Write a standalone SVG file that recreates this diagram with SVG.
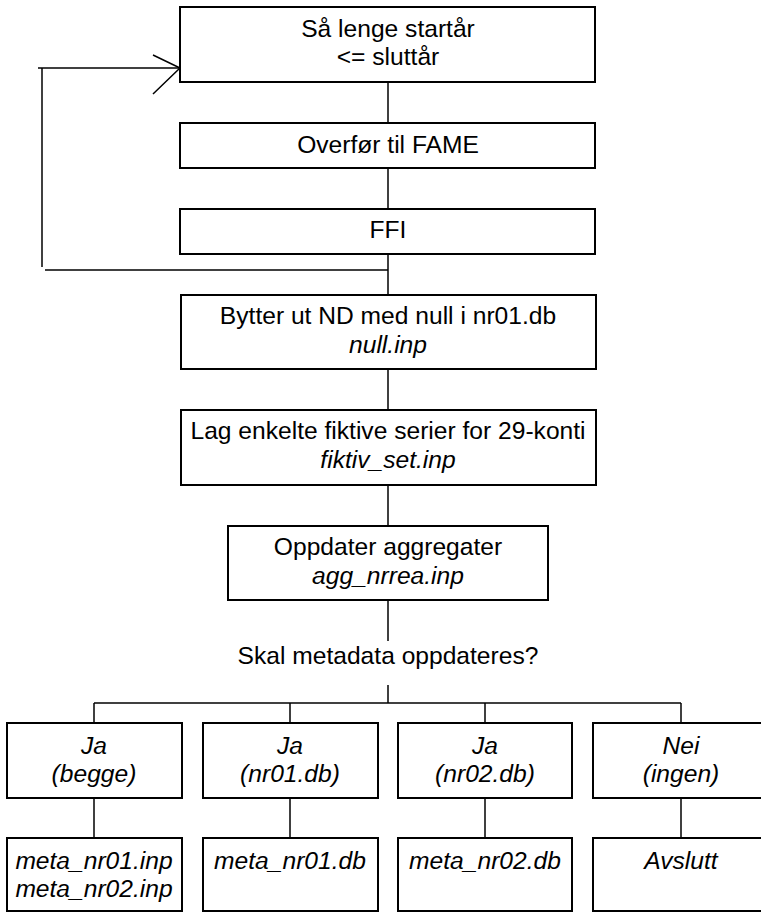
<svg xmlns="http://www.w3.org/2000/svg" width="761" height="913" viewBox="0 0 761 913">
  <style>
    .box { fill: #ffffff; stroke: #000000; stroke-width: 2; }
    .line { fill: none; stroke: #000000; stroke-width: 1.5; }
    text { font-family: "Liberation Sans", Arial, sans-serif; font-size: 24.6px; fill: #000000; text-anchor: middle; }
    .it { font-style: italic; }
  </style>
  <rect width="761" height="913" fill="#ffffff"/>

  <g id="connectors">
    <!-- main column -->
    <line class="line" x1="388" y1="82" x2="388" y2="123"/>
    <line class="line" x1="388" y1="168" x2="388" y2="209"/>
    <line class="line" x1="388" y1="254" x2="388" y2="295"/>
    <line class="line" x1="388" y1="369" x2="388" y2="410"/>
    <line class="line" x1="388" y1="485" x2="388" y2="526"/>
    <line class="line" x1="388" y1="600" x2="388" y2="641"/>
    <line class="line" x1="388" y1="685" x2="388" y2="703"/>
    <!-- loop back to the start -->
    <line class="line" x1="45" y1="270" x2="388" y2="270"/>
    <line class="line" x1="42" y1="267" x2="42" y2="68"/>
    <line class="line" x1="38" y1="68" x2="180" y2="68"/>
    <polyline class="line" points="153,55 180,68 153,94"/>
    <!-- branch bar -->
    <line class="line" x1="94" y1="703" x2="681" y2="703"/>
    <line class="line" x1="94" y1="703" x2="94" y2="723"/>
    <line class="line" x1="290" y1="703" x2="290" y2="723"/>
    <line class="line" x1="485" y1="703" x2="485" y2="723"/>
    <line class="line" x1="681" y1="703" x2="681" y2="723"/>
    <line class="line" x1="94" y1="798" x2="94" y2="838"/>
    <line class="line" x1="290" y1="798" x2="290" y2="838"/>
    <line class="line" x1="485" y1="798" x2="485" y2="838"/>
    <line class="line" x1="681" y1="798" x2="681" y2="838"/>
  </g>

  <g id="loop">
    <rect class="box" x="180" y="7" width="415" height="75"/>
    <text x="388" y="37">Så lenge startår</text>
    <text x="388" y="65">&lt;= sluttår</text>
  </g>
  <g id="overfor">
    <rect class="box" x="180" y="123" width="415" height="45"/>
    <text x="388" y="153">Overfør til FAME</text>
  </g>
  <g id="ffi">
    <rect class="box" x="180" y="209" width="415" height="45"/>
    <text x="388" y="238">FFI</text>
  </g>
  <g id="null">
    <rect class="box" x="181" y="295" width="415" height="74"/>
    <text x="388" y="324">Bytter ut ND med null i nr01.db</text>
    <text class="it" x="388" y="353">null.inp</text>
  </g>
  <g id="fiktiv">
    <rect class="box" x="181" y="410" width="415" height="75"/>
    <text x="388" y="439">Lag enkelte fiktive serier for 29-konti</text>
    <text class="it" x="388" y="468">fiktiv_set.inp</text>
  </g>
  <g id="aggregat">
    <rect class="box" x="228" y="526" width="320" height="74"/>
    <text x="388" y="555">Oppdater aggregater</text>
    <text class="it" x="388" y="584">agg_nrrea.inp</text>
  </g>
  <g id="sporsmal">
    <text x="388" y="664">Skal metadata oppdateres?</text>
  </g>

  <g id="ja-begge">
    <rect class="box" x="7" y="723" width="175" height="75"/>
    <text class="it" x="94" y="754">Ja</text>
    <text class="it" x="94" y="782">(begge)</text>
  </g>
  <g id="ja-nr01">
    <rect class="box" x="203" y="723" width="175" height="75"/>
    <text class="it" x="290" y="754">Ja</text>
    <text class="it" x="290" y="782">(nr01.db)</text>
  </g>
  <g id="ja-nr02">
    <rect class="box" x="398" y="723" width="174" height="75"/>
    <text class="it" x="485" y="754">Ja</text>
    <text class="it" x="485" y="782">(nr02.db)</text>
  </g>
  <g id="nei">
    <rect class="box" x="593" y="723" width="176" height="75"/>
    <text class="it" x="681" y="754">Nei</text>
    <text class="it" x="681" y="782">(ingen)</text>
  </g>

  <g id="meta-begge">
    <rect class="box" x="7" y="838" width="175" height="73"/>
    <text class="it" x="94" y="869">meta_nr01.inp</text>
    <text class="it" x="94" y="897">meta_nr02.inp</text>
  </g>
  <g id="meta-nr01">
    <rect class="box" x="203" y="838" width="175" height="73"/>
    <text class="it" x="290" y="869">meta_nr01.db</text>
  </g>
  <g id="meta-nr02">
    <rect class="box" x="398" y="838" width="174" height="73"/>
    <text class="it" x="485" y="869">meta_nr02.db</text>
  </g>
  <g id="avslutt">
    <rect class="box" x="593" y="838" width="176" height="73"/>
    <text class="it" x="681" y="869">Avslutt</text>
  </g>
</svg>
